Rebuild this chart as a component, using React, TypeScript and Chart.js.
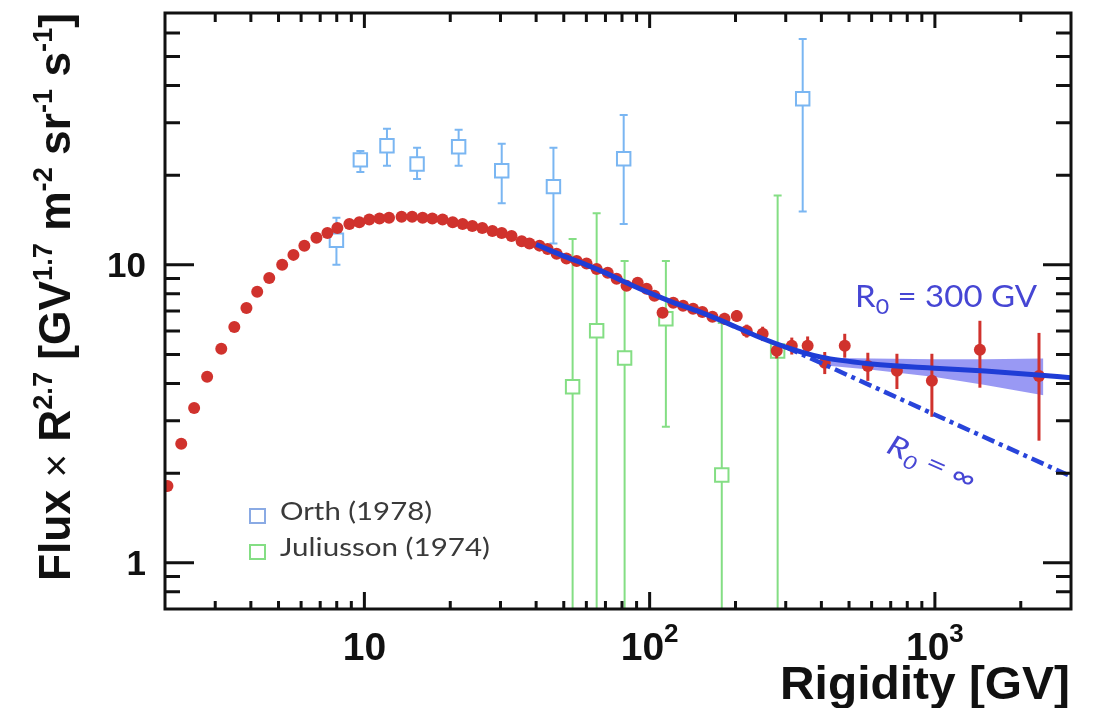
import React, { useEffect, useRef } from "react";
import { Chart, registerables } from "chart.js";

Chart.register(...registerables);

// ---------------- data ----------------
const redX = [2.04, 2.28, 2.53, 2.81, 3.15, 3.5, 3.86, 4.21, 4.64, 5.15, 5.64, 6.16, 6.79, 7.42, 8.04, 8.86, 9.6, 10.4, 11.3, 12.2, 13.5, 14.7, 16.0, 17.3, 18.8, 20.4, 22.1, 23.9, 25.9, 28.1, 30.3, 32.8, 35.6, 37.9, 41.1, 43.9, 47.2, 51.1, 55.5, 60.1, 65.2, 71.3, 76.6, 83.0, 90.8, 97.6, 104, 111, 121, 131, 142, 153, 166, 183, 202, 219, 249, 279, 315, 358, 411, 483, 582, 736, 976, 1438, 2317];
const redY = [1.81, 2.51, 3.31, 4.21, 5.23, 6.19, 7.17, 8.12, 9.04, 10.0, 10.8, 11.58, 12.32, 12.8, 13.3, 13.7, 13.9, 14.2, 14.3, 14.4, 14.5, 14.5, 14.4, 14.3, 14.2, 13.9, 13.7, 13.5, 13.3, 13.0, 12.8, 12.5, 12.0, 11.8, 11.6, 11.3, 10.9, 10.5, 10.3, 10.1, 9.69, 9.4, 8.98, 8.5, 8.7, 8.31, 7.87, 6.9, 7.46, 7.29, 7.12, 6.95, 6.69, 6.59, 6.74, 6.0, 5.87, 5.15, 5.35, 5.35, 4.69, 5.35, 4.58, 4.41, 4.08, 5.19, 4.24];
const redErrX = [153, 166, 183, 202, 219, 249, 279, 315, 358, 411, 483, 582, 736, 976, 1438, 2317];
const redErrLo = [6.7, 6.45, 6.3, 6.45, 5.7, 5.55, 4.85, 5.0, 5.0, 4.3, 4.88, 4.08, 3.83, 3.09, 3.87, 2.57];
const redErrHi = [7.2, 6.95, 6.9, 7.05, 6.3, 6.2, 5.5, 5.7, 5.75, 5.1, 5.87, 5.07, 5.03, 5.03, 6.49, 5.91];

const orthX = [7.98, 9.68, 12.0, 15.3, 21.4, 30.3, 46.0, 81.1, 344];
const orthY = [12.1, 22.5, 25.1, 21.8, 24.9, 20.7, 18.3, 22.7, 36.1];
const orthLo = [10.0, 20.5, 21.5, 19.4, 21.5, 16.1, 11.8, 13.7, 15.1];
const orthHi = [14.4, 24.1, 28.6, 24.7, 28.4, 25.5, 24.7, 31.8, 57.3];

const julX = [53.7, 65.2, 81.7, 114, 179, 281];
const julY = [3.9, 6.01, 4.87, 6.59, 1.97, 5.14];
const julLo = [0.3, 0.3, 0.3, 2.86, 0.3, 0.3];
const julHi = [12.2, 14.9, 10.3, 10.3, 6.38, 17.1];

const fitX = [40, 50, 60, 70, 80, 100, 120, 150, 200, 250, 300, 400, 600, 1000, 1500, 2300, 3000];
const fitY = [11.7, 10.7, 10.0, 9.4, 8.85, 8.05, 7.5, 6.95, 6.2, 5.65, 5.3, 4.9, 4.65, 4.5, 4.4, 4.27, 4.18];

const infX = [300, 3000];
const infY = [5.3, 1.95];

const bandX = [405, 600, 1000, 1500, 2400];
const bandHi = [4.88, 4.85, 4.82, 4.82, 4.85];
const bandLo = [4.6, 4.45, 4.2, 3.95, 3.65];

const xMajorTicks = [10, 100, 1000];
const xMinorTicks = [3, 4, 5, 6, 7, 8, 9, 20, 30, 40, 50, 60, 70, 80, 90, 200, 300, 400, 500, 600, 700, 800, 900, 2000];
const yMajorTicks = [1, 10];
const yMinorTicks = [0.8, 0.9, 2, 3, 4, 5, 6, 7, 8, 9, 20, 30, 40, 50, 60];
const xTickBase = ["10", "10", "10"];
const xTickSup = ["", "2", "3"];
const yTickLabels = ["1", "10"];

// ---------------- style ----------------
const RED = "#d0322d";
const ORTH = "#7ab6f2";
const JUL = "#84de84";
const FIT = "#1f3dd6";
const ANNOT = "#4646d4";
const BAND = "rgba(70,70,235,0.55)";
const AX = "#111111";
const BOLD = "'Liberation Sans', Arial, sans-serif";
const SOFT = "Lato, 'Open Sans', sans-serif";

const pts = (xs: number[], ys: number[]) => xs.map((x, i) => ({ x, y: ys[i] }));

type Piece = { t: string; font: string; dy: number };

function drawPieces(ctx: CanvasRenderingContext2D, pieces: Piece[], x: number, y: number, targetW: number | null, align: "left" | "right" | "center") {
  const widths = pieces.map((p) => {
    ctx.font = p.font;
    return ctx.measureText(p.t).width;
  });
  const total = widths.reduce((a, b) => a + b, 0);
  const s = targetW ? targetW / total : 1;
  ctx.save();
  ctx.translate(x, y);
  ctx.scale(s, 1);
  let cx = align === "left" ? 0 : align === "right" ? -total : -total / 2;
  ctx.textBaseline = "alphabetic";
  ctx.textAlign = "left";
  pieces.forEach((p, i) => {
    ctx.font = p.font;
    ctx.fillText(p.t, cx, p.dy);
    cx += widths[i];
  });
  ctx.restore();
}

function drawErr(chart: any, xs: number[], lo: number[], hi: number[], color: string, width: number, cap: number) {
  const ctx: CanvasRenderingContext2D = chart.ctx;
  const xs_ = chart.scales.x;
  const ys_ = chart.scales.y;
  const a = chart.chartArea;
  ctx.save();
  ctx.beginPath();
  ctx.rect(a.left, a.top, a.right - a.left, a.bottom - a.top);
  ctx.clip();
  ctx.strokeStyle = color;
  ctx.lineWidth = width;
  for (let i = 0; i < xs.length; i++) {
    const px = xs_.getPixelForValue(xs[i]);
    const y1 = ys_.getPixelForValue(lo[i]);
    const y2 = ys_.getPixelForValue(hi[i]);
    ctx.beginPath();
    ctx.moveTo(px, y1);
    ctx.lineTo(px, y2);
    if (cap > 0) {
      ctx.moveTo(px - cap / 2, y1);
      ctx.lineTo(px + cap / 2, y1);
      ctx.moveTo(px - cap / 2, y2);
      ctx.lineTo(px + cap / 2, y2);
    }
    ctx.stroke();
  }
  ctx.restore();
}

const decor = {
  id: "decor",
  beforeDatasetDraw(chart: any, args: any) {
    if (args.index === 2) drawErr(chart, redErrX, redErrLo, redErrHi, RED, 3, 0);
    if (args.index === 3) drawErr(chart, orthX, orthLo, orthHi, ORTH, 2, 8);
    if (args.index === 4) drawErr(chart, julX, julLo, julHi, JUL, 2, 8);
  },
  afterDraw(chart: any) {
    const ctx: CanvasRenderingContext2D = chart.ctx;
    const a = chart.chartArea;
    const xs = chart.scales.x;
    const ys = chart.scales.y;
    ctx.save();
    // frame
    ctx.strokeStyle = AX;
    ctx.lineWidth = 3;
    ctx.strokeRect(a.left, a.top, a.right - a.left, a.bottom - a.top);
    // ticks
    ctx.lineWidth = 3;
    ctx.beginPath();
    const xt = (v: number, lb: number, lt: number) => {
      const p = xs.getPixelForValue(v);
      ctx.moveTo(p, a.bottom);
      ctx.lineTo(p, a.bottom - lb);
      ctx.moveTo(p, a.top);
      ctx.lineTo(p, a.top + lt);
    };
    const yt = (v: number, ll: number, lr: number) => {
      const p = ys.getPixelForValue(v);
      ctx.moveTo(a.left, p);
      ctx.lineTo(a.left + ll, p);
      ctx.moveTo(a.right, p);
      ctx.lineTo(a.right - lr, p);
    };
    xMajorTicks.forEach((v) => xt(v, 17, 15));
    xMinorTicks.forEach((v) => xt(v, 8, 9));
    yMajorTicks.forEach((v) => yt(v, 29, 28));
    yMinorTicks.forEach((v) => yt(v, 15, 15));
    ctx.stroke();

    // tick labels
    ctx.fillStyle = "#111";
    yMajorTicks.forEach((v, i) => {
      const p = ys.getPixelForValue(v);
      drawPieces(ctx, [{ t: yTickLabels[i], font: `bold 35px ${BOLD}`, dy: 0 }], 146, p + 12.5, null, "right");
    });
    xMajorTicks.forEach((v, i) => {
      const p = xs.getPixelForValue(v);
      const pieces: Piece[] = [{ t: xTickBase[i], font: `bold 39px ${BOLD}`, dy: 0 }];
      if (xTickSup[i]) pieces.push({ t: xTickSup[i], font: `bold 26px ${BOLD}`, dy: -18 });
      drawPieces(ctx, pieces, p, 660, null, "center");
    });

    // x title
    drawPieces(ctx, [{ t: "Rigidity [GV]", font: `bold 47px ${BOLD}`, dy: 0 }], 1070, 699, 290, "right");

    // y title
    ctx.save();
    ctx.translate(70, 581);
    ctx.rotate(-Math.PI / 2);
    const big = `bold 44px ${BOLD}`;
    const sup = `bold 27px ${BOLD}`;
    const sd = -18;
    drawPieces(
      ctx,
      [
        { t: "Flux ", font: big, dy: 0 },
        { t: "×", font: `normal 40px ${BOLD}`, dy: 0 },
        { t: " R", font: big, dy: 0 },
        { t: "2.7", font: sup, dy: sd },
        { t: " [GV", font: big, dy: 0 },
        { t: "1.7", font: sup, dy: sd },
        { t: " m", font: big, dy: 0 },
        { t: "-2", font: sup, dy: sd },
        { t: " sr", font: big, dy: 0 },
        { t: "-1", font: sup, dy: sd },
        { t: " s", font: big, dy: 0 },
        { t: "-1", font: sup, dy: sd },
        { t: "]", font: big, dy: 0 },
      ],
      0,
      0,
      568,
      "left"
    );
    ctx.restore();

    // legend
    ctx.lineWidth = 2;
    ctx.strokeStyle = "#8aaae4";
    ctx.strokeRect(250, 509, 15, 14);
    ctx.strokeStyle = JUL;
    ctx.strokeRect(250, 545, 15, 14);
    ctx.fillStyle = "#3a3a3a";
    drawPieces(ctx, [{ t: "Orth (1978)", font: `25px ${SOFT}`, dy: 0 }], 280, 520, 152, "left");
    drawPieces(ctx, [{ t: "Juliusson (1974)", font: `25px ${SOFT}`, dy: 0 }], 280, 556, 210, "left");

    // annotations
    ctx.fillStyle = ANNOT;
    drawPieces(
      ctx,
      [
        { t: "R", font: `30px ${SOFT}`, dy: 0 },
        { t: "0", font: `21px ${SOFT}`, dy: 7 },
        { t: " = 300 GV", font: `30px ${SOFT}`, dy: 0 },
      ],
      855,
      307,
      182,
      "left"
    );
    ctx.save();
    ctx.translate(932, 462);
    ctx.rotate((24 * Math.PI) / 180);
    drawPieces(
      ctx,
      [
        { t: "R", font: `italic 28px ${SOFT}`, dy: 10 },
        { t: "0", font: `italic 19px ${SOFT}`, dy: 16 },
        { t: " = ∞", font: `italic 28px ${SOFT}`, dy: 10 },
      ],
      0,
      0,
      94,
      "center"
    );
    ctx.restore();
    ctx.restore();
  },
};

export default function App() {
  const ref = useRef<HTMLCanvasElement>(null);
  useEffect(() => {
    const chart = new Chart(ref.current as HTMLCanvasElement, {
      type: "scatter",
      data: {
        datasets: [
          {
            type: "line",
            label: "R0 = 300 GV",
            data: pts(fitX, fitY),
            borderColor: FIT,
            borderWidth: 5,
            pointRadius: 0,
            cubicInterpolationMode: "monotone",
            fill: false,
            order: 0,
          } as any,
          {
            type: "line",
            label: "R0 = inf",
            data: pts(infX, infY),
            borderColor: "#2844da",
            borderWidth: 4.5,
            borderDash: [13, 5, 4, 5],
            pointRadius: 0,
            fill: false,
            order: 1,
          } as any,
          {
            type: "scatter",
            label: "AMS",
            data: pts(redX, redY),
            backgroundColor: RED,
            borderColor: RED,
            borderWidth: 0,
            pointRadius: 6,
            order: 2,
          } as any,
          {
            type: "scatter",
            label: "Orth (1978)",
            data: pts(orthX, orthY),
            pointStyle: "rect",
            pointRadius: 9.5,
            backgroundColor: "#ffffff",
            borderColor: ORTH,
            borderWidth: 2,
            order: 3,
          } as any,
          {
            type: "scatter",
            label: "Juliusson (1974)",
            data: pts(julX, julY),
            pointStyle: "rect",
            pointRadius: 9.5,
            backgroundColor: "#ffffff",
            borderColor: JUL,
            borderWidth: 2,
            order: 4,
          } as any,
          {
            type: "line",
            label: "band hi",
            data: pts(bandX, bandHi),
            borderColor: "rgba(0,0,0,0)",
            borderWidth: 1,
            pointRadius: 0,
            backgroundColor: BAND,
            fill: "+1",
            order: 5,
          } as any,
          {
            type: "line",
            label: "band lo",
            data: pts(bandX, bandLo),
            borderColor: "rgba(0,0,0,0)",
            borderWidth: 1,
            pointRadius: 0,
            fill: false,
            order: 6,
          } as any,
        ],
      },
      options: {
        responsive: false,
        animation: false,
        devicePixelRatio: 1,
        events: [],
        layout: { padding: { left: 165, top: 13, right: 23, bottom: 99 } },
        plugins: { legend: { display: false }, tooltip: { enabled: false } },
        scales: {
          x: { type: "logarithmic", min: 2, max: 3000, display: false, bounds: "data" } as any,
          y: { type: "logarithmic", min: 0.7, max: 70, display: false, bounds: "data" } as any,
        },
      },
      plugins: [decor],
    });
    return () => chart.destroy();
  }, []);
  return (
    <div style={{ position: "fixed", left: 0, top: 0, width: 1094, height: 708, background: "#ffffff" }}>
      <canvas ref={ref} width={1094} height={708} style={{ display: "block" }} />
    </div>
  );
}
